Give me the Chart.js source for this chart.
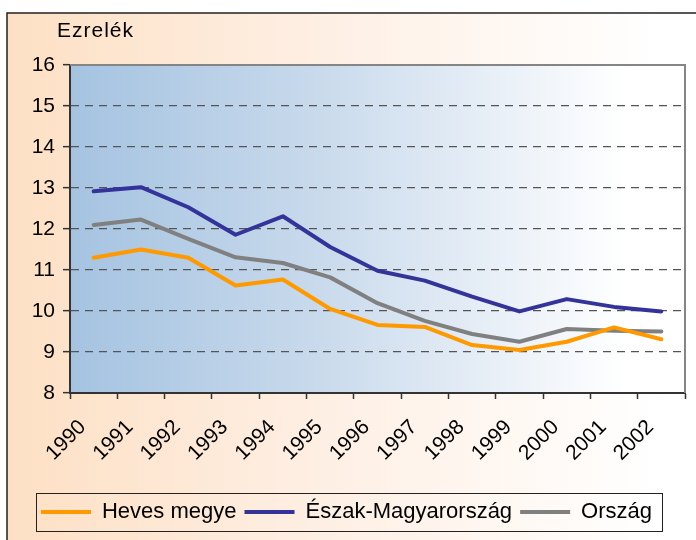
<!DOCTYPE html>
<html>
<head>
<meta charset="utf-8">
<script src="https://cdn.jsdelivr.net/npm/chart.js@4/dist/chart.umd.min.js"></script>
<style>
  html, body { margin: 0; padding: 0; background: #fff; }
  #wrap { width: 696px; height: 540px; position: relative; }
</style>
</head>
<body>
<div id="wrap"><canvas id="lineChart" width="696" height="540"></canvas></div>
<script>
var years = ['1990', '1991', '1992', '1993', '1994', '1995', '1996', '1997', '1998', '1999', '2000', '2001', '2002'];
var heves = [11.30, 11.50, 11.30, 10.62, 10.77, 10.05, 9.66, 9.61, 9.17, 9.05, 9.25, 9.60, 9.31];
var eszak = [12.92, 13.02, 12.53, 11.86, 12.31, 11.56, 10.98, 10.74, 10.35, 9.99, 10.29, 10.10, 9.99];
var orszag = [12.10, 12.23, 11.76, 11.31, 11.17, 10.82, 10.19, 9.76, 9.44, 9.25, 9.56, 9.52, 9.50];
var yMin = 8, yMax = 16;
var axisTitle = 'Ezrelék';

var FONT = 'Liberation Sans, Arial, sans-serif';

// outer frame, plot background and plot border
var backdrop = {
    id: 'backdrop',
    beforeDraw: function (chart) {
        var c = chart.ctx, a = chart.chartArea;
        c.save();
        var g = c.createLinearGradient(7, 0, 660, 0);
        g.addColorStop(0, '#fde0c4');
        g.addColorStop(0.45, '#feeee2');
        g.addColorStop(1, '#ffffff');
        c.fillStyle = g;
        c.fillRect(7, 13, 700, 540);
        c.strokeStyle = '#222';
        c.lineWidth = 1.5;
        c.strokeRect(7, 13, 700, 540);

        var pg = c.createLinearGradient(a.left, 0, a.right - 60, 0);
        pg.addColorStop(0, '#a5c3e1');
        pg.addColorStop(0.45, '#c9daec');
        pg.addColorStop(1, '#ffffff');
        c.fillStyle = pg;
        c.fillRect(a.left, a.top, a.right - a.left, a.bottom - a.top);

        c.fillStyle = '#000';
        c.font = '21px ' + FONT;
        c.letterSpacing = '1px';
        c.textBaseline = 'alphabetic';
        c.fillText(axisTitle, 57, 37);
        c.restore();
    },
    afterDraw: function (chart) {
        var c = chart.ctx, a = chart.chartArea;
        c.save();
        c.strokeStyle = '#858585';
        c.lineWidth = 2;
        c.beginPath();
        c.moveTo(a.left, a.top);
        c.lineTo(a.right, a.top);
        c.lineTo(a.right, a.bottom);
        c.stroke();
        // legend frame
        var lg = chart.legend;
        if (lg && lg.legendHitBoxes && lg.legendHitBoxes.length) {
            var hb = lg.legendHitBoxes;
            var l = hb[0].left, r = hb[hb.length - 1].left + hb[hb.length - 1].width;
            var t = hb[0].top, h = hb[0].height;
            c.strokeStyle = '#222';
            c.lineWidth = 1;
            c.strokeRect(Math.round(l - 5) + 0.5, Math.round(t + h / 2 - 19) + 0.5, Math.round(r - l + 15), 38);
        }
        c.restore();
    }
};

var ctx = document.getElementById('lineChart').getContext('2d');
var myChart = new Chart(ctx, {
    type: 'line',
    data: {
        labels: years,
        datasets: [
            { label: 'Heves megye', data: heves, borderColor: '#ff9900', backgroundColor: '#ff9900' },
            { label: 'Észak-Magyarország', data: eszak, borderColor: '#333399', backgroundColor: '#333399' },
            { label: 'Ország', data: orszag, borderColor: '#808080', backgroundColor: '#808080' }
        ]
    },
    options: {
        responsive: false,
        animation: false,
        devicePixelRatio: 1,
        elements: {
            line: { borderWidth: 4, tension: 0, borderCapStyle: 'round', borderJoinStyle: 'round' },
            point: { radius: 0, hoverRadius: 0 }
        },
        layout: { padding: { left: 8, right: 11, top: 65, bottom: 7 } },
        plugins: {
            title: { display: false },
            tooltip: { enabled: false },
            legend: {
                position: 'bottom',
                labels: {
                    color: '#000',
                    font: { family: FONT, size: 22 },
                    boxWidth: 50,
                    boxHeight: 4,
                    padding: 8,
                    generateLabels: function (chart) {
                        var items = Chart.defaults.plugins.legend.labels.generateLabels(chart);
                        items.forEach(function (it) { it.lineWidth = 0; });
                        return items;
                    }
                }
            }
        },
        scales: {
            x: {
                offset: true,
                afterFit: function (s) { s.height = 100; },
                grid: { drawOnChartArea: false, offset: true, tickLength: 6, tickColor: '#333', tickWidth: 1.5 },
                border: { color: '#333', width: 2 },
                ticks: {
                    color: '#000',
                    font: { family: FONT, size: 21 },
                    minRotation: 45,
                    maxRotation: 45,
                    padding: 16,
                    labelOffset: -11,
                    autoSkip: false
                }
            },
            y: {
                min: yMin,
                max: yMax,
                afterFit: function (s) { s.width = 62; },
                grid: {
                    tickLength: 7,
                    tickColor: '#333',
                    tickWidth: 1.5,
                    lineWidth: 1.3,
                    color: function (c) {
                        var v = c.tick ? c.tick.value : null;
                        return (v === yMin || v === yMax) ? 'rgba(0,0,0,0)' : '#555';
                    }
                },
                border: { color: '#333', width: 2, dash: [8, 6] },
                ticks: {
                    stepSize: 1,
                    color: '#000',
                    font: { family: FONT, size: 21 },
                    padding: 8
                }
            }
        }
    },
    plugins: [backdrop]
});
</script>
</body>
</html>
